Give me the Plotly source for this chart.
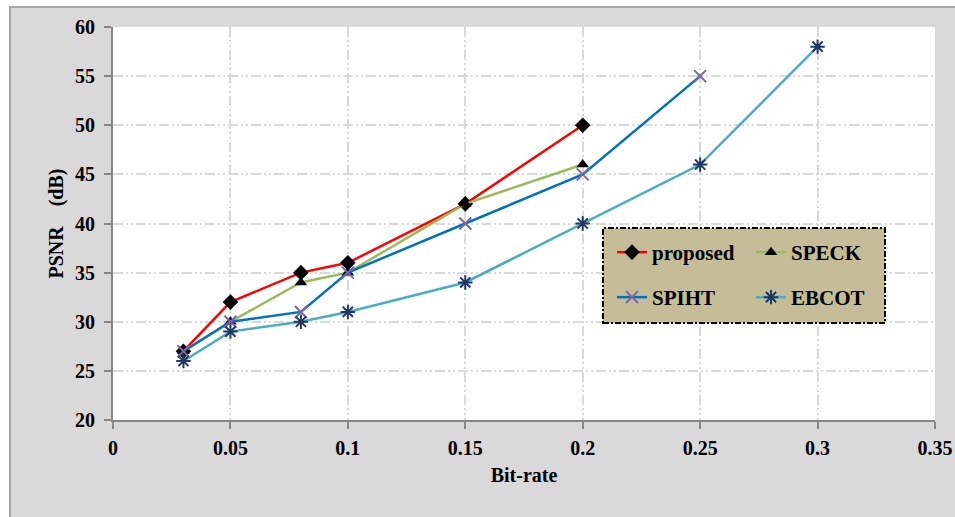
import plotly.graph_objects as go

# ---- data ----
bitrate_proposed = [0.03, 0.05, 0.08, 0.10, 0.15, 0.20]
psnr_proposed = [27, 32, 35, 36, 42, 50]

bitrate_speck = [0.03, 0.05, 0.08, 0.10, 0.15, 0.20]
psnr_speck = [27, 30, 34, 35, 42, 46]

bitrate_spiht = [0.03, 0.05, 0.08, 0.10, 0.15, 0.20, 0.25]
psnr_spiht = [27, 30, 31, 35, 40, 45, 55]

bitrate_ebcot = [0.03, 0.05, 0.08, 0.10, 0.15, 0.20, 0.25, 0.30]
psnr_ebcot = [26, 29, 30, 31, 34, 40, 46, 58]

x_ticks = [0, 0.05, 0.1, 0.15, 0.2, 0.25, 0.3, 0.35]
x_ticklabels = ["0", "0.05", "0.1", "0.15", "0.2", "0.25", "0.3", "0.35"]
y_ticks = [20, 25, 30, 35, 40, 45, 50, 55, 60]

FONT = "Liberation Serif"
W, H = 955, 517
ML, MR, MT, MB = 113, 20, 27, 97
PW, PH = W - ML - MR, H - MT - MB


def px_x(px):
    return (px - ML) / PW


def px_y(py):
    return (H - MB - py) / PH


fig = go.Figure()

fig.add_trace(go.Scatter(
    x=bitrate_proposed, y=psnr_proposed, name="proposed", mode="lines+markers",
    line=dict(color="#ff0000", width=2.5),
    marker=dict(symbol="diamond", size=12, color="black"),
    legend="legend"))
fig.add_trace(go.Scatter(
    x=bitrate_speck, y=psnr_speck, name="SPECK", mode="lines+markers",
    line=dict(color="#9bbb59", width=2.5),
    marker=dict(symbol="triangle-up", size=11, color="black"),
    legend="legend"))
fig.add_trace(go.Scatter(
    x=bitrate_spiht, y=psnr_spiht, name="SPIHT", mode="lines+markers",
    line=dict(color="#0070c0", width=2.5),
    marker=dict(symbol="x-thin-open", size=12, color="#8064a2",
                line=dict(color="#8064a2", width=2)),
    legend="legend2"))
fig.add_trace(go.Scatter(
    x=bitrate_ebcot, y=psnr_ebcot, name="EBCOT", mode="lines+markers",
    line=dict(color="#4bacc6", width=2.5),
    marker=dict(symbol="asterisk-open", size=12, color="#1f3864",
                line=dict(color="#1f3864", width=2)),
    legend="legend2"))

grid_dash = "10px,3px,2px,3px,2px,3px"
axis_common = dict(
    showline=True, linecolor="#868686", linewidth=2,
    ticks="outside", ticklen=7, tickwidth=2, tickcolor="#868686",
    showgrid=True, gridcolor="#d9d9d9", gridwidth=2, griddash=grid_dash,
    zeroline=False, automargin=False,
    tickfont=dict(family=FONT, size=20, color="black", weight="bold"),
    title_font=dict(family=FONT, size=20, color="black", weight="bold"),
)

fig.update_xaxes(range=[0, 0.35], tickvals=x_ticks, ticktext=x_ticklabels,
                 title_text="Bit-rate", title_standoff=10, ticklabelstandoff=2,
                 **axis_common)
fig.update_yaxes(range=[20, 60], tickvals=y_ticks,
                 title_text="PSNR\u00a0\u00a0\u00a0\u00a0(dB)", title_standoff=6,
                 ticklabelstandoff=5, **axis_common)

legend_font = dict(family=FONT, size=21, color="black", weight="bold")
shapes = [
    # white strips outside the grey frame
    dict(type="rect", xref="paper", yref="paper", x0=px_x(-5), x1=px_x(10),
         y0=px_y(H + 5), y1=px_y(-5), fillcolor="white", line_width=0, layer="below"),
    dict(type="rect", xref="paper", yref="paper", x0=px_x(-5), x1=px_x(W + 5),
         y0=px_y(7), y1=px_y(-5), fillcolor="white", line_width=0, layer="below"),
    # frame border
    dict(type="rect", xref="paper", yref="paper", x0=px_x(10), x1=px_x(W + 20),
         y0=px_y(H + 20), y1=px_y(7), fillcolor="rgba(0,0,0,0)",
         line=dict(color="#a6a6a6", width=2), layer="below"),
    # legend box
    dict(type="rect", xref="paper", yref="paper", x0=px_x(603), x1=px_x(885),
         y0=px_y(323), y1=px_y(228), fillcolor="#c4bd97",
         line=dict(color="black", width=2, dash="6px,2px,2px,2px"), layer="above"),
]

fig.update_layout(
    width=W, height=H,
    margin=dict(l=ML, r=MR, t=MT, b=MB, autoexpand=False),
    paper_bgcolor="#d9d9d9", plot_bgcolor="white",
    shapes=shapes,
    legend=dict(orientation="h", x=px_x(612), y=px_y(232), xanchor="left", yanchor="top",
                bgcolor="rgba(0,0,0,0)", borderwidth=0, font=legend_font,
                entrywidth=94, itemwidth=30, tracegroupgap=0),
    legend2=dict(orientation="h", x=px_x(612), y=px_y(277), xanchor="left", yanchor="top",
                 bgcolor="rgba(0,0,0,0)", borderwidth=0, font=legend_font,
                 entrywidth=94, itemwidth=30, tracegroupgap=0),
)

fig.write_html(
    "out.html",
    config={"displayModeBar": False},
    post_script="document.body.style.margin='0';document.body.style.overflow='hidden';"
                "document.documentElement.style.overflow='hidden';",
)
